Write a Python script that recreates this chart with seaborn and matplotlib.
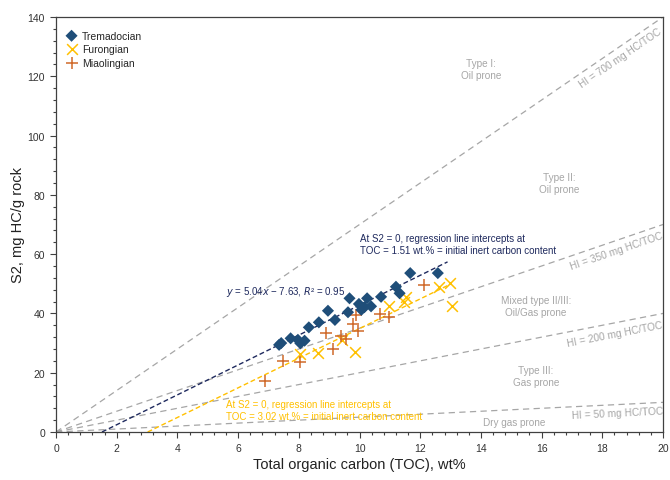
import numpy as np
import pandas as pd
import matplotlib
matplotlib.use("Agg")
import matplotlib.pyplot as plt
import seaborn as sns
from matplotlib.ticker import MultipleLocator

# ---------------- data ----------------
trem_toc = [7.35, 7.42, 7.73, 7.97, 8.05, 8.19, 8.33, 8.66, 8.96, 9.19, 9.62, 9.67,
            9.98, 10.06, 10.16, 10.25, 10.38, 10.71, 11.20, 11.32, 11.67, 12.58]
trem_s2 = [29.4, 30.0, 31.6, 31.1, 29.9, 30.8, 35.3, 37.0, 40.9, 37.8, 40.4, 45.1,
           43.2, 41.2, 42.1, 45.1, 42.4, 45.6, 49.0, 46.8, 53.6, 53.6]

furo_toc = [8.05, 8.63, 9.84, 9.43, 10.97, 11.54, 11.48, 12.61, 12.98, 13.05]
furo_s2 = [26.3, 26.7, 26.9, 31.0, 42.4, 45.4, 43.8, 49.0, 50.3, 42.4]

miao_toc = [6.88, 7.48, 8.03, 8.90, 9.14, 9.40, 9.54, 9.78, 9.89, 9.95, 10.69, 10.96, 12.14]
miao_s2 = [17.1, 24.1, 23.5, 33.3, 28.0, 32.3, 31.4, 36.4, 39.3, 34.2, 39.8, 38.7, 49.6]

# regression lines (slope, intercept, end of line on TOC axis)
trem_fit = (5.04, -7.63, 12.9)
furo_fit = (5.00, -15.10, 13.0)

# hydrogen index reference lines (mg HC/g TOC)
hi_values = [700, 350, 200, 50]
hi_labels = ["HI = 700 mg HC/TOC", "HI = 350 mg HC/TOC",
             "HI = 200 mg HC/TOC", "HI = 50 mg HC/TOC"]
hi_label_pos = [(18.6, 126.5), (18.45, 61.3), (18.4, 33.0), (18.5, 6.6)]

zone_labels = ["Type I:\nOil prone", "Type II:\nOil prone",
               "Mixed type II/III:\nOil/Gas prone", "Type III:\nGas prone",
               "Dry gas prone"]
zone_pos = [(14.0, 122.4), (16.58, 83.9), (15.81, 42.5), (15.81, 18.9), (15.08, 3.5)]

groups = ["Tremadocian", "Furongian", "Miaolingian"]
colors = {"Tremadocian": "#1f4e79", "Furongian": "#ffc000", "Miaolingian": "#d0692a"}
navy = "#1f2a5e"
gray = "#a6a6a6"

df = pd.concat([
    pd.DataFrame({"TOC": trem_toc, "S2": trem_s2, "Stage": "Tremadocian"}),
    pd.DataFrame({"TOC": furo_toc, "S2": furo_s2, "Stage": "Furongian"}),
    pd.DataFrame({"TOC": miao_toc, "S2": miao_s2, "Stage": "Miaolingian"}),
], ignore_index=True)

# ---------------- style ----------------
sns.set_style("ticks")
plt.rcParams["font.family"] = ["Liberation Sans", "DejaVu Sans"]

fig = plt.figure(figsize=(6.7, 4.81), dpi=100)
ax = fig.add_axes([0.0836, 0.0998, 0.9060, 0.8628])
ax.set_xlim(0, 20)
ax.set_ylim(0, 140)

# HI lines
xx = np.array([0.0, 20.0])
for hi in hi_values:
    ax.plot(xx, xx * hi / 100.0, color=gray, lw=0.9, ls=(0, (5, 3.5)), zorder=1)

# regression lines
for (m, b, xend), c in [(trem_fit, navy), (furo_fit, colors["Furongian"])]:
    x0 = -b / m
    xs = np.array([x0, xend])
    ax.plot(xs, m * xs + b, color=c, lw=1.0, ls=(0, (3.5, 2)), zorder=2)

# scatter
sns.scatterplot(data=df[df.Stage == "Tremadocian"], x="TOC", y="S2", marker="D",
                color=colors["Tremadocian"], s=38, edgecolor="none", ax=ax,
                label="Tremadocian", zorder=4)
sns.scatterplot(data=df[df.Stage == "Furongian"], x="TOC", y="S2", marker="x",
                color=colors["Furongian"], s=60, linewidth=1.1, ax=ax,
                label="Furongian", zorder=3)
sns.scatterplot(data=df[df.Stage == "Miaolingian"], x="TOC", y="S2", marker="+",
                color=colors["Miaolingian"], s=70, linewidth=1.1, ax=ax,
                label="Miaolingian", zorder=3)

# labels for HI lines (rotated along the lines)
for hi, lab, (px, py) in zip(hi_values, hi_labels, hi_label_pos):
    ang = np.degrees(np.arctan(hi / 100.0))
    rot = ax.transData.transform_angles(np.array([ang]), np.array([[px, py]]))[0]
    ax.text(px, py, lab, color=gray, fontsize=7.3, rotation=rot,
            rotation_mode="anchor", ha="center", va="center")

for lab, (px, py) in zip(zone_labels, zone_pos):
    ax.text(px, py, lab, color=gray, fontsize=7.2, ha="center", va="center",
            linespacing=1.3)

ax.text(10.02, 63.4, "At S2 = 0, regression line intercepts at\n"
        "TOC = 1.51 wt.% = initial inert carbon content",
        color=navy, fontsize=7.0, ha="left", va="center", linespacing=1.3)
ax.text(5.61, 47.7, r"$\it{y}$ = 5.04$\it{x}$ − 7.63, $\it{R}$² = 0.95",
        color=navy, fontsize=7.0, ha="left", va="center")
ax.text(5.61, 7.5, "At S2 = 0, regression line intercepts at\n"
        "TOC = 3.02 wt.% = initial inert carbon content",
        color=colors["Furongian"], fontsize=7.0, ha="left", va="center",
        linespacing=1.3)

# axes formatting
ax.xaxis.set_major_locator(MultipleLocator(2))
ax.xaxis.set_minor_locator(MultipleLocator(0.4))
ax.yaxis.set_major_locator(MultipleLocator(20))
ax.yaxis.set_minor_locator(MultipleLocator(4))
ax.tick_params(which="major", length=4, width=0.8, color="#404040",
               labelsize=7.5, labelcolor="#333333", pad=4)
ax.tick_params(which="minor", length=2.5, width=0.8, color="#404040")
for sp in ax.spines.values():
    sp.set_color("#404040")
    sp.set_linewidth(0.9)

ax.set_xlabel("Total organic carbon (TOC), wt%", fontsize=10.5, color="#222222",
              labelpad=3)
ax.set_ylabel("S2, mg HC/g rock", fontsize=10.5, color="#222222", labelpad=2)

leg = ax.legend(loc="upper left", bbox_to_anchor=(0.005, 0.985), frameon=False,
                fontsize=7.5, handlelength=1.0, handletextpad=0.5,
                labelspacing=0.35, borderaxespad=0.3)

fig.savefig("out.png", dpi=100)
